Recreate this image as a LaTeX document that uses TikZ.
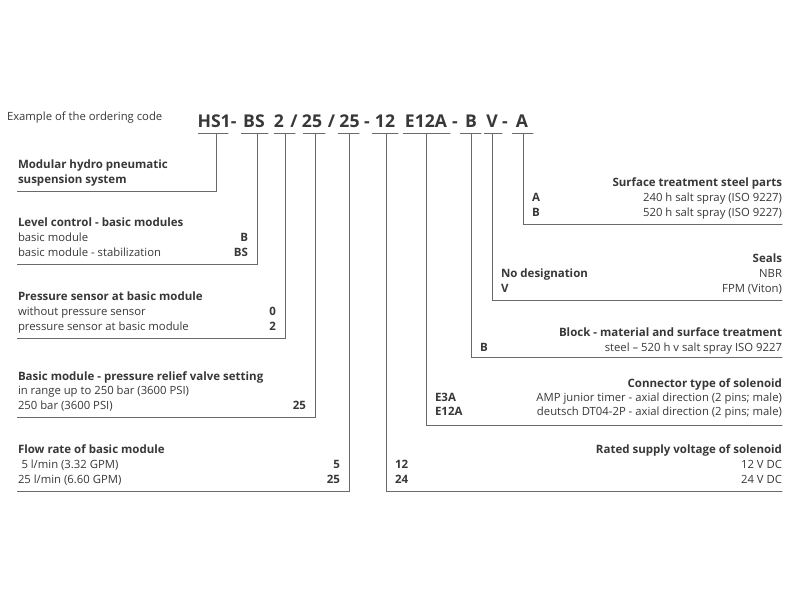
\documentclass[tikz,border=0pt]{standalone}
\usepackage{fontspec}
\setmainfont{Open Sans}
\definecolor{txt}{HTML}{383838}
\definecolor{ln}{HTML}{6A6A6A}
\definecolor{shd}{HTML}{CCCCCC}
\begin{document}
\begin{tikzpicture}[x=1pt,y=-1pt,
  every node/.style={inner sep=0pt, outer sep=0pt, text=txt, font=\fontsize{11.3}{13}\selectfont},
  code/.style={anchor=base, font=\fontsize{17.6}{20}\selectfont\bfseries},
  ttl/.style={font=\fontsize{11.5}{13}\selectfont\bfseries},
  lbl/.style={anchor=base west},
  rgt/.style={anchor=base east},
  conn/.style={draw=ln, line width=1pt, preaction={draw=shd, line width=1pt, transform canvas={shift={(0.8pt,-0.8pt)}}}},
]
\fill[white] (0,0) rectangle (800,600);
\useasboundingbox (0,0) rectangle (800,600);

% header
\node[lbl] (ex) at (7,120) {Example of the ordering code};
\node[code] (cHS) at (217,127) {HS1-};
\node[code] (cBS) at (254,127) {BS};
\node[code] (c2) at (279,127) {2};
\node[code] (s1) at (294,127) {/};
\node[code] (c25a) at (312,127) {25};
\node[code] (s2) at (331.5,127) {/};
\node[code] (c25b) at (349.5,127) {25};
\node[code] (d1) at (367,127) {-};
\node[code] (c12) at (385,127) {12};
\node[code] (cE) at (426,127) {E12A};
\node[code] (d2) at (455,127) {-};
\node[code] (cB) at (471,127) {B};
\node[code] (cV) at (492,127) {V};
\node[code] (d3) at (505,127) {-};
\node[code] (cA) at (522,127) {A};

% underlines
\foreach \a/\b in {198/228, 241/268, 274/295, 303/325, 338/359, 372/398, 403/450, 460/481, 484/502, 512/533}
  \draw[conn] (\a,133) -- (\b,133);

% connector tops
\coordinate (uHS) at (216,133);
\coordinate (uBS) at (257,133);
\coordinate (u2) at (285,133);
\coordinate (u25a) at (315,133);
\coordinate (u25b) at (349,133);
\coordinate (u12) at (386,133);
\coordinate (uE) at (426,133);
\coordinate (uB) at (471,133);
\coordinate (uV) at (492,133);
\coordinate (uA) at (523,133);

% connector ends
\coordinate (eHS) at (17,191);
\coordinate (eBS) at (17,264);
\coordinate (e2) at (17,338);
\coordinate (e25a) at (17,417);
\coordinate (e25b) at (17,491);
\coordinate (e12) at (782,491);
\coordinate (eE) at (782,425);
\coordinate (eB) at (782,357);
\coordinate (eV) at (782,300);
\coordinate (eA) at (782,224);

\draw[conn] (uHS) |- (eHS);
\draw[conn] (uBS) |- (eBS);
\draw[conn] (u2) |- (e2);
\draw[conn] (u25a) |- (e25a);
\draw[conn] (u25b) |- (e25b);
\draw[conn] (u12) |- (e12);
\draw[conn] (uE) |- (eE);
\draw[conn] (uB) |- (eB);
\draw[conn] (uV) |- (eV);
\draw[conn] (uA) |- (eA);

% left: modular
\node[lbl,ttl] (m1) at (18,168) {Modular hydro pneumatic};
\node[lbl,ttl] (m2) at (18,183) {suspension system};

% level control
\node[lbl,ttl] (l0) at (18,226) {Level control - basic modules};
\node[lbl] (l1) at (18,241) {basic module};
\node[lbl] (l2) at (18,256) {basic module - stabilization};
\node[rgt,ttl] (l1n) at (248,241) {B};
\node[rgt,ttl] (l2n) at (248,256) {BS};

% pressure sensor
\node[lbl,ttl] (p0) at (18,300) {Pressure sensor at basic module};
\node[lbl] (p1) at (18,315) {without pressure sensor};
\node[lbl] (p2) at (18,330) {pressure sensor at basic module};
\node[rgt,ttl] (p1n) at (276,315) {0};
\node[rgt,ttl] (p2n) at (276,330) {2};

% relief valve
\node[lbl,ttl] (r0) at (18,380) {Basic module - pressure relief valve setting};
\node[lbl] (r1) at (18,394) {in range up to 250 bar (3600 PSI)};
\node[lbl] (r2) at (18,409) {250 bar (3600 PSI)};
\node[rgt,ttl] (r2n) at (306,409) {25};

% flow rate
\node[lbl,ttl] (f0) at (18,453) {Flow rate of basic module};
\node[lbl] (f1) at (18,468) {\hspace{3.5pt}5 l/min (3.32 GPM)};
\node[lbl] (f2) at (18,483) {25 l/min (6.60 GPM)};
\node[rgt,ttl] (f1n) at (340,468) {5};
\node[rgt,ttl] (f2n) at (340,483) {25};

% right: surface treatment
\node[rgt,ttl] (a0) at (782,186) {Surface treatment steel parts};
\node[lbl,ttl] (a1) at (532,201) {A};
\node[lbl,ttl] (a2) at (532,216) {B};
\node[rgt] (a1t) at (782,201) {240 h salt spray (ISO 9227)};
\node[rgt] (a2t) at (782,216) {520 h salt spray (ISO 9227)};

% seals
\node[rgt,ttl] (v0) at (782,262) {Seals};
\node[lbl,ttl] (v1) at (501,277) {No designation};
\node[lbl,ttl] (v2) at (501,292) {V};
\node[rgt] (v1t) at (782,277) {NBR};
\node[rgt] (v2t) at (782,292) {FPM (Viton)};

% block
\node[rgt,ttl] (b0) at (782,336) {Block - material and surface treatment};
\node[lbl,ttl] (b1) at (480,351) {B};
\node[rgt] (b1t) at (782,351) {steel -- 520 h v salt spray ISO 9227};

% connector
\node[rgt,ttl] (e0) at (782,387) {Connector type of solenoid};
\node[lbl,ttl] (e1) at (435,401) {E3A};
\node[lbl,ttl] (e2) at (435,415) {E12A};
\node[rgt] (e1t) at (782,401) {AMP junior timer - axial direction (2 pins; male)};
\node[rgt] (e2t) at (782,415) {deutsch DT04-2P - axial direction (2 pins; male)};

% voltage
\node[rgt,ttl] (t0) at (782,453) {Rated supply voltage of solenoid};
\node[lbl,ttl] (t1) at (395,468) {12};
\node[lbl,ttl] (t2) at (395,483) {24};
\node[rgt] (t1t) at (782,468) {12 V DC};
\node[rgt] (t2t) at (782,483) {24 V DC};
\end{tikzpicture}
\end{document}
